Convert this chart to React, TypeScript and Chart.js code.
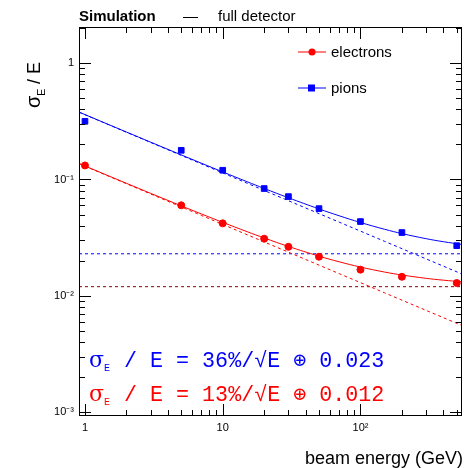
import React, { useEffect, useRef } from "react";
import { Chart, registerables } from "chart.js";
Chart.register(...registerables);

const energies = [1, 5, 10, 20, 30, 50, 100, 200, 500];
const electronRes = [0.132, 0.060, 0.042, 0.031, 0.0264, 0.0217, 0.0168, 0.0146, 0.0129];
const pionRes = [0.316, 0.178, 0.12, 0.0836, 0.0713, 0.0562, 0.0435, 0.035, 0.027];
const electronFit = { a: 0.13, c: 0.012 };
const pionFit = { a: 0.36, c: 0.023 };
const curveE = [0.905, 1, 1.5, 2, 3, 5, 7, 10, 15, 20, 30, 50, 70, 100, 150, 200, 300, 400, 546];
const xTicks = [1, 10, 100];
const xTickLabels = ["1", "10", "10²"];
const yTicks = [1, 0.1, 0.01, 0.001];
const yTickLabels = ["1", "10⁻¹", "10⁻²", "10⁻³"];

const XMIN = 0.905, XMAX = 546, YMIN = 0.00093, YMAX = 2.04;

function fitPts(f: { a: number; c: number }, mode: "full" | "stoch" | "const") {
  return curveE.map((e) => {
    const s = f.a / Math.sqrt(e);
    const y = mode === "full" ? Math.sqrt(s * s + f.c * f.c) : mode === "stoch" ? s : f.c;
    return { x: e, y };
  });
}

const framePlugin = {
  id: "frame",
  afterDraw(chart: any) {
    const { ctx, chartArea: a, scales } = chart;
    const xs = scales.x, ys = scales.y;
    ctx.save();
    ctx.strokeStyle = "#000";
    ctx.lineWidth = 1;
    ctx.strokeRect(a.left + 0.5, a.top + 0.5, a.right - a.left - 1, a.bottom - a.top - 1);
    for (let d = 0; d <= 2; d++) {
      for (let m = 1; m <= 9; m++) {
        const v = m * Math.pow(10, d);
        if (v < XMIN || v > XMAX) continue;
        const px = Math.round(xs.getPixelForValue(v)) + 0.5;
        const len = m === 1 ? 12 : 6;
        ctx.beginPath();
        ctx.moveTo(px, a.bottom); ctx.lineTo(px, a.bottom - len);
        ctx.moveTo(px, a.top); ctx.lineTo(px, a.top + len);
        ctx.stroke();
      }
    }
    for (let d = -3; d <= 0; d++) {
      for (let m = 1; m <= 9; m++) {
        const v = m * Math.pow(10, d);
        if (v < YMIN || v > YMAX) continue;
        const py = Math.round(ys.getPixelForValue(v)) + 0.5;
        const len = m === 1 ? 12 : 6;
        ctx.beginPath();
        ctx.moveTo(a.left, py); ctx.lineTo(a.left + len, py);
        ctx.moveTo(a.right, py); ctx.lineTo(a.right - len, py);
        ctx.stroke();
      }
    }
    ctx.fillStyle = "#000";
    ctx.font = "11px 'Liberation Sans', Arial, sans-serif";
    ctx.textAlign = "center";
    ctx.textBaseline = "top";
    xTicks.forEach((v, i) => ctx.fillText(xTickLabels[i], xs.getPixelForValue(v), a.bottom + 6));
    ctx.textAlign = "right";
    ctx.textBaseline = "middle";
    yTicks.forEach((v, i) => ctx.fillText(yTickLabels[i], a.left - 5, ys.getPixelForValue(v)));
    ctx.font = "18px 'Liberation Sans', Arial, sans-serif";
    ctx.textAlign = "right";
    ctx.textBaseline = "alphabetic";
    ctx.fillText("beam energy (GeV)", 463, 464);
    ctx.save();
    ctx.translate(40, 108);
    ctx.rotate(-Math.PI / 2);
    ctx.textAlign = "left";
    ctx.font = "20px 'Liberation Sans', Arial, sans-serif";
    ctx.fillText("σ", 0, 0);
    ctx.font = "11px 'Liberation Sans', Arial, sans-serif";
    ctx.fillText("E", 12, 5);
    ctx.font = "18px 'Liberation Sans', Arial, sans-serif";
    ctx.fillText(" / E", 19, 0);
    ctx.restore();
    ctx.textAlign = "left";
    ctx.font = "bold 15px 'Liberation Sans', Arial, sans-serif";
    ctx.fillText("Simulation", 79, 21);
    ctx.font = "15px 'Liberation Sans', Arial, sans-serif";
    ctx.fillText("—", 183, 21);
    ctx.fillText("full detector", 218, 21);
    const leg = [
      { t: "electrons", c: "#ff0000", y: 52, sq: false },
      { t: "pions", c: "#0000ff", y: 88, sq: true },
    ];
    leg.forEach((l) => {
      ctx.strokeStyle = l.c; ctx.fillStyle = l.c; ctx.lineWidth = 1;
      ctx.beginPath(); ctx.moveTo(298, l.y); ctx.lineTo(326, l.y); ctx.stroke();
      if (l.sq) ctx.fillRect(308, l.y - 3.5, 7, 7);
      else { ctx.beginPath(); ctx.arc(312, l.y, 3.5, 0, Math.PI * 2); ctx.fill(); }
      ctx.fillStyle = "#000";
      ctx.font = "15px 'Liberation Sans', Arial, sans-serif";
      ctx.textBaseline = "middle";
      ctx.fillText(l.t, 331, l.y + 1);
    });
    const formulas = [
      { c: "#0000ff", y: 367, t: " / E = 36%/√E ⊕ 0.023" },
      { c: "#ff0000", y: 401, t: " / E = 13%/√E ⊕ 0.012" },
    ];
    formulas.forEach((f) => {
      ctx.fillStyle = f.c;
      ctx.textBaseline = "alphabetic";
      ctx.font = "22px 'DejaVu Serif', serif";
      ctx.fillText("σ", 89, f.y);
      ctx.font = "10px 'Liberation Mono', monospace";
      ctx.fillText("E", 104, f.y + 4);
      ctx.font = "21.7px 'Liberation Mono', 'Courier New', monospace";
      ctx.fillText(f.t, 111, f.y);
    });
    ctx.restore();
  },
};

export default function App() {
  const ref = useRef<HTMLCanvasElement>(null);
  useEffect(() => {
    document.body.style.margin = "0";
    const dashE = { borderDash: [3, 3], borderWidth: 1, pointRadius: 0, showLine: true, fill: false };
    const chart = new Chart(ref.current!, {
      type: "scatter",
      data: {
        datasets: [
          { data: energies.map((e, i) => ({ x: e, y: electronRes[i] })), backgroundColor: "#ff0000", borderColor: "#ff0000", pointRadius: 3.5, pointStyle: "circle" },
          { data: energies.map((e, i) => ({ x: e, y: pionRes[i] })), backgroundColor: "#0000ff", borderColor: "#0000ff", pointRadius: 4, pointStyle: "rect" },
          { data: fitPts(electronFit, "full"), borderColor: "#ff0000", borderWidth: 1, pointRadius: 0, showLine: true, tension: 0.4 },
          { data: fitPts(pionFit, "full"), borderColor: "#0000ff", borderWidth: 1, pointRadius: 0, showLine: true, tension: 0.4 },
          { data: fitPts(electronFit, "stoch"), borderColor: "#ff0000", ...dashE },
          { data: fitPts(pionFit, "stoch"), borderColor: "#0000ff", ...dashE },
          { data: fitPts(electronFit, "const"), borderColor: "#8b0000", ...dashE },
          { data: fitPts(pionFit, "const"), borderColor: "#0000ff", ...dashE },
        ] as any,
      },
      options: {
        animation: false,
        responsive: false,
        layout: { padding: { left: 79, right: 2, top: 27, bottom: 52 } },
        plugins: { legend: { display: false }, tooltip: { enabled: false } },
        scales: {
          x: { type: "logarithmic", min: XMIN, max: XMAX, display: false },
          y: { type: "logarithmic", min: YMIN, max: YMAX, display: false },
        },
      },
      plugins: [framePlugin],
    });
    return () => chart.destroy();
  }, []);
  return <canvas ref={ref} width={467} height={468} style={{ display: "block" }} />;
}
